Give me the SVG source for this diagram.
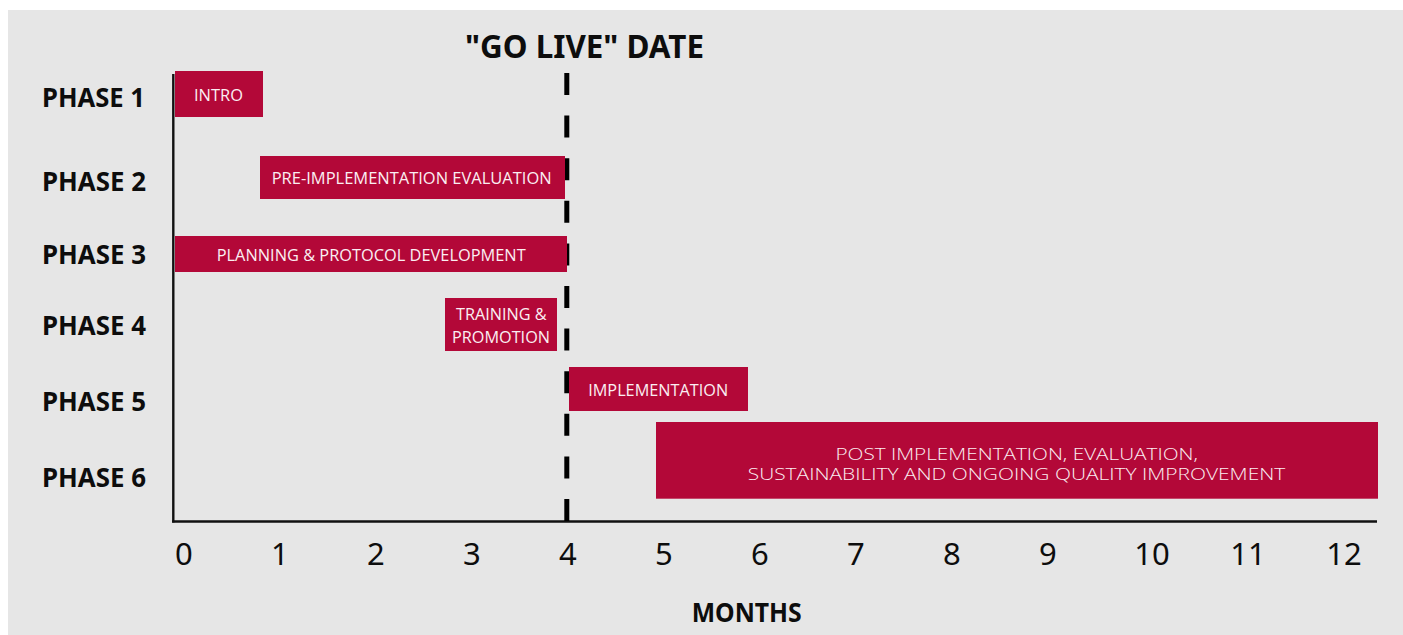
<svg xmlns="http://www.w3.org/2000/svg" width="1403" height="635" viewBox="0 0 1403 635">
<style>
.bar{fill:#b30838}
.bt{font-family:"Open Sans","Noto Sans",sans-serif;font-weight:400;font-size:17px;fill:#fbeef2;text-anchor:middle}
.bt6{font-family:"Open Sans","Noto Sans",sans-serif;font-weight:300;font-size:16px;fill:#fbeef2;text-anchor:middle}
.ph{font-family:"Noto Sans","Open Sans",sans-serif;font-weight:700;font-size:26px;fill:#0d0d0d}
.num{font-family:"Noto Sans","Open Sans",sans-serif;font-size:31px;fill:#0d0d0d;text-anchor:middle}
.ttl{font-family:"Noto Sans","Open Sans",sans-serif;font-weight:700;fill:#0d0d0d;text-anchor:middle}
</style>
<rect x="0" y="0" width="1403" height="635" fill="#ffffff"/>
<rect x="8" y="10" width="1395" height="625" fill="#e6e6e6"/>

<g id="title">
<text class="ttl" x="584.5" y="58.3" font-size="32.6" textLength="239" lengthAdjust="spacingAndGlyphs">"GO LIVE" DATE</text>
</g>

<g id="phase-labels">
<text class="ph" x="42" y="107.3" textLength="103" lengthAdjust="spacingAndGlyphs">PHASE 1</text>
<text class="ph" x="42" y="190.7" textLength="104" lengthAdjust="spacingAndGlyphs">PHASE 2</text>
<text class="ph" x="42" y="264" textLength="104" lengthAdjust="spacingAndGlyphs">PHASE 3</text>
<text class="ph" x="42" y="335" textLength="104" lengthAdjust="spacingAndGlyphs">PHASE 4</text>
<text class="ph" x="42" y="410.7" textLength="104" lengthAdjust="spacingAndGlyphs">PHASE 5</text>
<text class="ph" x="42" y="487.3" textLength="104" lengthAdjust="spacingAndGlyphs">PHASE 6</text>
</g>

<g id="connectors">
<line x1="173.3" y1="74" x2="173.3" y2="522.5" stroke="#111" stroke-width="2.4"/>
<line x1="172.1" y1="521.5" x2="1377" y2="521.5" stroke="#111" stroke-width="2.4"/>
<line x1="566.8" y1="73" x2="566.8" y2="521" stroke="#000" stroke-width="5" stroke-dasharray="22 20.6"/>
</g>

<g id="phase1">
<rect class="bar" x="175" y="71" width="88" height="46"/>
<text class="bt" x="218.5" y="101" textLength="49" lengthAdjust="spacingAndGlyphs">INTRO</text>
</g>
<g id="phase2">
<rect class="bar" x="260" y="156" width="305" height="43"/>
<text class="bt" x="411.7" y="184.3" textLength="280" lengthAdjust="spacingAndGlyphs">PRE-IMPLEMENTATION EVALUATION</text>
</g>
<g id="phase3">
<rect class="bar" x="175" y="236" width="392" height="36"/>
<text class="bt" x="371.2" y="261" textLength="309" lengthAdjust="spacingAndGlyphs">PLANNING &amp; PROTOCOL DEVELOPMENT</text>
</g>
<g id="phase4">
<rect class="bar" x="445" y="298" width="112" height="53"/>
<text class="bt" x="501.3" y="320" textLength="90.7" lengthAdjust="spacingAndGlyphs">TRAINING &amp;</text>
<text class="bt" x="501" y="342.7" textLength="98" lengthAdjust="spacingAndGlyphs">PROMOTION</text>
</g>
<g id="phase5">
<rect class="bar" x="569" y="367" width="179" height="44"/>
<text class="bt" x="658.2" y="395.7" textLength="140" lengthAdjust="spacingAndGlyphs">IMPLEMENTATION</text>
</g>
<g id="phase6">
<rect class="bar" x="656" y="422" width="722" height="76.7"/>
<text class="bt6" x="1016.7" y="459.5" textLength="362.5" lengthAdjust="spacingAndGlyphs">POST IMPLEMENTATION, EVALUATION,</text>
<text class="bt6" x="1016.5" y="479.5" textLength="537.5" lengthAdjust="spacingAndGlyphs">SUSTAINABILITY AND ONGOING QUALITY IMPROVEMENT</text>
</g>

<g id="x-axis-labels">
<text class="num" x="183.8" y="565">0</text>
<text class="num" x="279.8" y="565">1</text>
<text class="num" x="375.8" y="565">2</text>
<text class="num" x="471.8" y="565">3</text>
<text class="num" x="567.8" y="565">4</text>
<text class="num" x="663.8" y="565">5</text>
<text class="num" x="759.8" y="565">6</text>
<text class="num" x="855.8" y="565">7</text>
<text class="num" x="951.8" y="565">8</text>
<text class="num" x="1047.8" y="565">9</text>
<text class="num" x="1152" y="565">10</text>
<text class="num" x="1248" y="565">11</text>
<text class="num" x="1344" y="565">12</text>
<text class="ttl" x="746.7" y="621.7" font-size="26.6" textLength="110" lengthAdjust="spacingAndGlyphs">MONTHS</text>
</g>
</svg>
